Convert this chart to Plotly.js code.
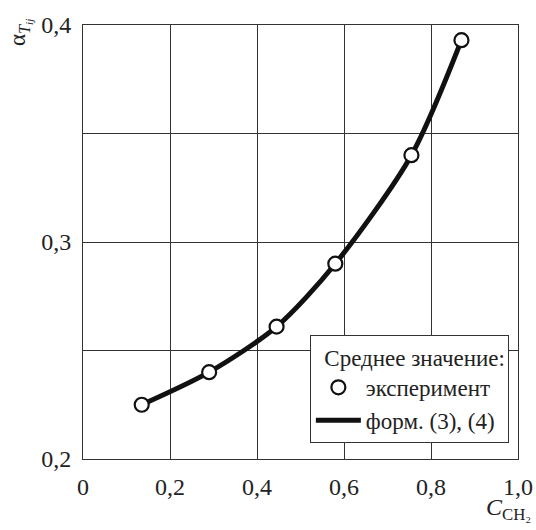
<!DOCTYPE html>
<html><head><meta charset="utf-8">
<script src="https://cdn.plot.ly/plotly-3.0.1.min.js"></script>
<style>html,body{margin:0;padding:0;background:#fff}</style>
</head><body>
<div id="chart" style="width:536px;height:530px"></div>
<script>
var concentration = [0.135, 0.29, 0.445, 0.58, 0.755, 0.87];
var alphaExp = [0.225, 0.240, 0.261, 0.290, 0.340, 0.393];
var xTickVals = [0, 0.2, 0.4, 0.6, 0.8, 1.0];
var xTickText = ['0', '0,2', '0,4', '0,6', '0,8', '1,0'];
var yTickVals = [0.2, 0.25, 0.3, 0.35, 0.4];
var yTickText = ['0,2', '', '0,3', '', '0,4'];
var seriesNames = ['форм. (3), (4)', 'эксперимент'];

var fontFam = '"Liberation Serif", "Times New Roman", serif';
var traces = [
  {x: concentration, y: alphaExp, mode: 'lines', name: seriesNames[0],
   line: {color: '#111', width: 5, shape: 'spline', smoothing: 0.8}, legendrank: 2},
  {x: concentration, y: alphaExp, mode: 'markers', name: seriesNames[1],
   marker: {size: 14, color: '#fff', line: {color: '#111', width: 2.2}}, legendrank: 1}
];
var grid = {showgrid: true, gridcolor: '#333', gridwidth: 1, showline: true, linecolor: '#333',
  linewidth: 1, mirror: true, zeroline: false, ticks: 'outside', tickcolor: 'rgba(0,0,0,0)',
  tickfont: {family: fontFam, size: 24, color: '#222'}};
var layout = {
  width: 536, height: 530,
  margin: {l: 83, r: 18, t: 25, b: 71},
  paper_bgcolor: '#fff', plot_bgcolor: '#fff',
  font: {family: fontFam, color: '#222'},
  showlegend: true,
  xaxis: Object.assign({}, grid, {range: [0, 1], tickvals: xTickVals, ticktext: xTickText, ticklen: 6}),
  yaxis: Object.assign({}, grid, {range: [0.2, 0.4], tickvals: yTickVals, ticktext: yTickText, ticklen: 6}),
  legend: {x: 0.979, xanchor: 'right', y: 0.037, yanchor: 'bottom', bgcolor: '#fff',
    bordercolor: '#333', borderwidth: 1, font: {family: fontFam, size: 23, color: '#222'},
    title: {text: '\u00a0\u00a0Среднее значение:', font: {family: fontFam, size: 23, color: '#222'}, side: 'top'},
    itemwidth: 45, tracegroupgap: 0},
  annotations: [
    {xref: 'paper', yref: 'paper', x: 1.035, y: -0.077, xanchor: 'right', yanchor: 'top', showarrow: false,
     text: '<i>C</i><sub>CH₂</sub>', font: {family: fontFam, size: 24, color: '#222'}},
    {xref: 'paper', yref: 'paper', x: 0, y: 1, xanchor: 'center', yanchor: 'middle', showarrow: false,
     xshift: -63, yshift: -8, textangle: -90, text: 'α<sub><i>T<sub>ij</sub></i></sub>',
     font: {family: fontFam, size: 23, color: '#222'}}
  ]
};
Plotly.newPlot('chart', traces, layout, {displayModeBar: false, staticPlot: true});
</script>
</body></html>
